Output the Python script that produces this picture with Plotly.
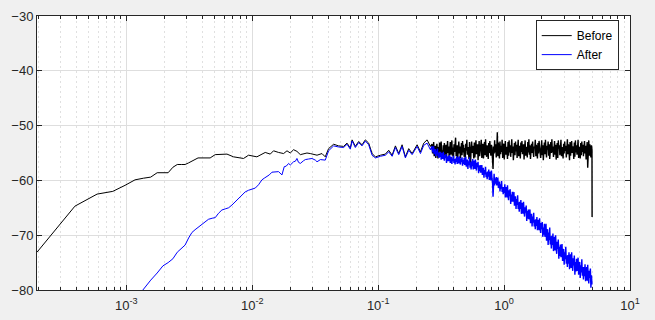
import numpy as np
import plotly.graph_objects as go

# ---------------- data ----------------
# smooth / mid part of "Before" (Hz, dB)
before_freq = [1.953e-4, 3.906e-4, 5.859e-4, 7.81e-4, 9.77e-4, 1.172e-3, 1.367e-3, 1.5625e-3,
               1.758e-3, 1.953e-3, 2.148e-3, 2.344e-3, 2.539e-3, 2.734e-3, 2.93e-3, 3.125e-3,
               3.32e-3, 3.516e-3, 3.711e-3, 4.63e-3, 5.08e-3, 6.30e-3, 7.10e-3, 8.53e-3,
               9.35e-3, 1.089e-2, 1.158e-2, 1.268e-2, 1.390e-2, 1.476e-2, 1.618e-2, 1.774e-2,
               1.888e-2, 2.005e-2, 2.13e-2, 2.265e-2, 2.41e-2, 2.56e-2, 2.72e-2, 2.89e-2,
               3.07e-2, 3.27e-2, 3.58e-2, 3.80e-2, 4.04e-2, 4.43e-2, 4.85e-2, 5.32e-2,
               5.66e-2, 6.01e-2, 6.21e-2, 6.59e-2, 7.00e-2, 7.45e-2, 7.91e-2, 8.41e-2,
               8.95e-2, 9.51e-2, 0.1042, 0.1141, 0.1213, 0.1291, 0.1371, 0.1457,
               0.1549, 0.1645, 0.1749, 0.1861, 0.2039, 0.2167, 0.2301, 0.2447, 0.260]
before_db = [-73.1, -64.7, -62.5, -62.0, -60.9, -59.9, -59.6, -59.4,
             -58.6, -58.6, -58.6, -57.6, -57.1, -57.1, -57.1, -56.8,
             -56.5, -56.1, -55.9, -55.9, -55.3, -55.2, -55.7, -56.0,
             -55.4, -55.7, -55.4, -54.9, -55.2, -54.6, -54.9, -55.1,
             -54.6, -55.0, -54.4, -54.7, -55.3, -55.2, -55.0, -55.1,
             -55.3, -55.4, -55.1, -55.7, -54.2, -53.4, -53.7, -53.8,
             -53.2, -54.1, -52.6, -53.8, -52.9, -53.5, -52.6, -53.2,
             -55.1, -55.7, -55.4, -55.2, -54.5, -55.4, -53.7, -55.1,
             -53.5, -55.7, -54.2, -55.1, -53.5, -54.8, -53.2, -52.6, -53.8]

after_freq = [1.172e-3, 1.367e-3, 1.5625e-3, 1.758e-3, 1.953e-3, 2.148e-3, 2.344e-3, 2.539e-3,
              2.734e-3, 2.93e-3, 3.125e-3, 3.32e-3, 3.516e-3, 3.711e-3, 3.86e-3, 4.15e-3,
              4.49e-3, 4.81e-3, 5.08e-3, 5.40e-3, 5.74e-3, 6.10e-3, 6.49e-3, 6.90e-3,
              7.33e-3, 7.78e-3, 8.28e-3, 8.79e-3, 9.35e-3, 9.95e-3, 1.057e-2, 1.122e-2,
              1.194e-2, 1.245e-2, 1.309e-2, 1.365e-2, 1.435e-2, 1.524e-2, 1.618e-2, 1.722e-2,
              1.795e-2, 1.862e-2, 1.945e-2, 2.005e-2, 2.13e-2, 2.20e-2, 2.265e-2, 2.33e-2,
              2.41e-2, 2.56e-2, 2.64e-2, 2.80e-2, 2.98e-2, 3.17e-2, 3.27e-2, 3.48e-2,
              3.58e-2, 3.80e-2, 4.04e-2, 4.43e-2, 4.85e-2, 5.32e-2, 5.66e-2, 6.01e-2,
              6.21e-2, 6.59e-2, 7.00e-2, 7.45e-2, 7.91e-2, 8.41e-2, 8.95e-2, 9.51e-2,
              0.1042, 0.1141, 0.1213, 0.1291, 0.1371, 0.1457, 0.1549, 0.1645,
              0.1749, 0.1861, 0.2039, 0.2167, 0.2301, 0.2447, 0.260]
after_db = [-81.8, -79.8, -78.2, -76.9, -75.6, -75.0, -74.3, -73.1,
            -72.4, -71.8, -70.5, -69.5, -69.0, -68.6, -68.3, -67.7,
            -67.1, -66.9, -66.8, -66.0, -65.4, -65.2, -65.0, -64.5,
            -63.9, -63.3, -62.7, -62.1, -61.8, -61.6, -61.4, -60.8,
            -59.9, -59.6, -59.3, -59.0, -58.5, -58.5, -58.4, -59.0,
            -57.5, -57.4, -56.9, -57.2, -56.6, -56.5, -56.0, -56.7,
            -56.9, -56.4, -56.2, -56.1, -56.0, -56.3, -56.6, -56.2,
            -56.2, -56.3, -54.6, -53.7, -53.9, -54.0, -53.4, -54.3,
            -52.8, -54.0, -53.1, -53.7, -52.8, -53.5, -55.4, -55.9,
            -55.6, -55.4, -54.8, -55.6, -54.0, -55.3, -53.8, -55.9,
            -54.5, -55.3, -53.8, -55.1, -53.6, -53.2, -54.4]

# noisy high-frequency part, sampled on a log grid between these limits (Hz)
noisy_band_hz = (0.268, 4.99)
before_noisy_db = [
    -53.4, -55.1, -54.2, -53.0, -55.6, -54.4, -53.7, -55.9, -54.8, -53.3, -54.6, -56.0, -53.9, -54.7, -53.1,
    -55.4, -54.0, -52.9, -55.2, -54.5, -56.1, -53.6, -54.9, -53.2, -55.7, -54.3, -53.5, -55.8, -54.1, -52.8,
    -55.0, -53.8, -56.2, -54.6, -53.0, -55.3, -54.2, -52.7, -55.5, -54.0, -56.3, -53.4, -54.8, -53.1, -52.2,
    -55.6, -54.3, -53.6, -55.9, -54.7, -52.9, -55.1, -53.8, -56.0, -54.4, -53.2, -55.4, -52.8, -54.9, -53.5,
    -55.7, -54.1, -56.2, -53.3, -54.6, -52.6, -55.3, -53.9, -54.8, -56.1, -53.0, -55.5, -56.8, -54.2, -52.9,
    -55.0, -53.7, -54.5, -56.0, -53.1, -55.8, -54.3, -52.7, -55.2, -54.0, -53.4, -56.3, -54.7, -52.8, -55.6,
    -53.9, -54.4, -52.6, -55.9, -54.1, -53.3, -56.0, -54.8, -53.0, -55.4, -52.5, -54.6, -55.7, -53.6, -54.2,
    -56.1, -53.2, -55.0, -52.8, -54.7, -55.5, -53.5, -54.0, -56.2, -57.9, -53.8, -55.1, -52.7, -54.9, -53.4,
    -55.8, -54.3, -51.2, -55.6, -53.1, -54.5, -56.0, -52.9, -55.2, -53.7, -54.8, -52.6, -55.9, -54.0, -53.3,
    -56.2, -54.6, -52.8, -55.3, -53.9, -54.4, -56.1, -53.0, -55.5, -52.7, -54.9, -53.6, -55.7, -54.2, -52.5,
    -55.0, -53.8, -56.3, -54.5, -53.2, -55.4, -52.9, -54.7, -53.5, -55.9, -54.1, -52.6, -55.6, -53.7, -54.3,
    -56.0, -53.1, -54.8, -52.8, -55.2, -54.0, -53.4, -56.2, -54.6, -52.7, -55.5, -53.9, -54.4, -55.8, -53.0,
    -54.9, -52.5, -55.3, -53.6, -56.1, -54.2, -53.3, -55.0, -52.9, -54.7, -55.7, -53.8, -54.1, -52.6, -55.6,
    -53.5, -54.8, -56.0, -53.2, -55.1, -52.8, -54.5, -53.9, -55.9, -54.3, -52.7, -55.4, -53.6, -56.3, -54.0,
    -53.1, -55.2, -52.6, -54.6, -55.8, -53.7, -54.4, -52.9, -55.5, -53.4, -56.1, -54.7, -53.0, -55.0, -52.5,
    -54.9, -53.8, -55.7, -54.1, -52.8, -55.3, -53.5, -56.2, -54.5, -53.2, -55.9, -52.7, -54.2, -53.6, -55.4,
    -54.0, -52.6, -55.6, -53.9, -54.8, -56.0, -53.3, -55.1, -52.9, -54.6, -53.7, -55.8, -54.3, -52.5, -55.2,
    -53.4, -54.7, -56.3, -53.0, -55.5, -54.1, -52.8, -55.0, -53.8, -54.4, -56.1, -53.1, -55.7, -52.7, -54.9,
    -53.6, -55.3, -54.2, -52.6, -55.9, -53.9, -54.5, -56.0, -53.2, -55.4, -52.9, -54.8, -53.5, -55.6, -54.0,
    -52.8, -55.1, -53.7, -56.2, -54.3, -53.0, -57.7, -54.6, -52.7, -55.5, -53.4, -54.9, -55.8, -53.6, -54.4]
after_noisy_db = [
    -53.8, -54.9, -54.4, -53.8, -55.2, -54.8, -54.3, -55.6, -54.6, -55.2, -54.2, -55.6, -54.9, -55.9, -54.9,
    -55.7, -54.8, -56.2, -55.3, -55.0, -56.1, -54.8, -55.9, -56.4, -55.4, -55.9, -55.2, -56.8, -55.7, -56.5,
    -55.5, -56.5, -56.0, -55.4, -56.8, -56.3, -55.7, -57.0, -56.0, -56.5, -55.5, -56.8, -56.1, -57.1, -56.0,
    -56.6, -55.6, -57.0, -56.1, -55.8, -56.9, -55.6, -56.6, -57.1, -56.0, -56.6, -55.8, -57.3, -56.3, -57.0,
    -55.9, -57.2, -56.5, -55.7, -57.5, -56.9, -56.2, -57.9, -56.5, -57.2, -55.8, -57.7, -56.7, -58.0, -56.5,
    -57.4, -56.1, -58.0, -56.8, -56.4, -57.9, -56.2, -57.5, -58.2, -56.8, -57.6, -56.6, -58.7, -57.3, -58.3,
    -57.2, -58.6, -57.9, -57.2, -59.0, -58.4, -57.7, -59.5, -58.1, -58.9, -57.5, -59.4, -58.5, -59.8, -58.4,
    -59.3, -58.0, -59.9, -58.8, -58.4, -60.0, -58.2, -59.6, -60.3, -63.0, -59.8, -58.8, -60.9, -59.6, -60.6,
    -59.4, -60.9, -60.2, -59.5, -61.4, -60.8, -60.2, -62.0, -60.7, -61.5, -60.1, -62.1, -61.2, -62.5, -61.2,
    -62.3, -60.7, -63.1, -61.7, -61.2, -63.1, -60.9, -62.7, -63.6, -61.8, -62.9, -61.6, -64.3, -62.6, -63.9,
    -62.1, -63.9, -63.1, -62.1, -64.6, -63.8, -62.9, -65.2, -63.4, -64.5, -62.7, -65.2, -64.0, -65.7, -63.9,
    -65.2, -63.6, -66.1, -64.6, -64.1, -66.1, -63.9, -65.7, -66.6, -64.9, -65.9, -64.6, -67.4, -65.6, -67.0,
    -65.3, -67.1, -66.3, -65.3, -67.8, -67.0, -66.1, -68.4, -66.6, -67.7, -65.9, -68.4, -67.2, -68.9, -67.1,
    -68.3, -66.7, -69.1, -67.7, -67.2, -69.1, -66.9, -68.7, -69.6, -67.8, -68.9, -67.6, -70.3, -68.6, -69.9,
    -67.9, -70.3, -69.2, -67.9, -71.0, -70.0, -68.9, -71.8, -69.5, -70.9, -68.6, -71.7, -70.2, -72.4, -70.1,
    -71.8, -69.7, -72.9, -71.0, -70.3, -72.8, -70.0, -72.3, -73.4, -71.2, -72.5, -70.8, -74.3, -72.1, -73.8,
    -71.7, -74.0, -72.9, -71.6, -74.7, -73.6, -72.5, -75.4, -73.1, -74.4, -72.1, -75.2, -73.7, -75.8, -73.6,
    -75.2, -73.1, -76.2, -74.3, -73.5, -76.0, -73.1, -75.4, -76.5, -74.2, -75.5, -73.7, -77.2, -74.9, -76.6,
    -74.3, -76.5, -75.4, -74.1, -77.2, -76.1, -74.9, -77.8, -75.5, -76.8, -74.4, -77.4, -75.8, -78.1, -75.8,
    -77.5, -75.3, -78.4, -76.5, -75.8, -78.3, -75.4, -77.7, -78.8, -76.5, -77.8, -76.1, -79.6, -77.3, -79.0]
before_end = (5.0, -66.7)

x_tickvals = [1e-3, 1e-2, 1e-1, 1, 10]
x_ticktext = ["10<sup>-3</sup>", "10<sup>-2</sup>", "10<sup>-1</sup>", "10<sup>0</sup>", "10<sup>1</sup>"]
y_tickvals = [-80, -70, -60, -50, -40, -30]

# ---------------- build ----------------
noisy_freq = list(np.geomspace(noisy_band_hz[0], noisy_band_hz[1], len(before_noisy_db)))

fig = go.Figure()
# smooth parts (carry the legend)
fig.add_trace(go.Scatter(x=before_freq, y=before_db, mode="lines", name="Before",
                         legendgroup="b", line=dict(color="#000000", width=1)))
fig.add_trace(go.Scatter(x=after_freq, y=after_db, mode="lines", name="After",
                         legendgroup="a", line=dict(color="#0000ff", width=1)))
# dense noisy parts, joined to the smooth parts
fig.add_trace(go.Scatter(x=[before_freq[-1]] + noisy_freq + [before_end[0]],
                         y=[before_db[-1]] + before_noisy_db + [before_end[1]],
                         mode="lines", name="Before", legendgroup="b", showlegend=False,
                         line=dict(color="#000000", width=1.4)))
fig.add_trace(go.Scatter(x=[after_freq[-1]] + noisy_freq,
                         y=[after_db[-1]] + after_noisy_db,
                         mode="lines", name="After", legendgroup="a", showlegend=False,
                         line=dict(color="#0000ff", width=1.4)))

axis_col = "#262626"
fig.update_xaxes(type="log", range=[np.log10(1.953e-4), 1],
                 tickvals=x_tickvals, ticktext=x_ticktext, automargin=False,
                 ticklabelstandoff=3,
                 showline=True, linecolor=axis_col, linewidth=1, mirror="ticks",
                 ticks="inside", ticklen=5, tickcolor=axis_col,
                 showgrid=True, gridcolor="#dedede", gridwidth=1,
                 minor=dict(dtick="D1", showgrid=True, gridcolor="#e0e0e0",
                            griddash="2px,3px", ticks="inside", ticklen=3, tickcolor=axis_col),
                 zeroline=False, tickfont=dict(size=13, color=axis_col))
fig.update_yaxes(range=[-80, -30], tickvals=y_tickvals, automargin=False,
                 showline=True, linecolor=axis_col, linewidth=1, mirror="ticks",
                 ticks="inside", ticklen=5, tickcolor=axis_col,
                 showgrid=True, gridcolor="#dedede", gridwidth=1,
                 zeroline=False, tickfont=dict(size=13, color=axis_col))

fig.update_layout(
    width=655, height=320,
    margin=dict(l=37, r=25, t=16, b=30),
    paper_bgcolor="#f0f0f0", plot_bgcolor="#ffffff",
    font=dict(family="Liberation Sans, Arial, sans-serif", color=axis_col),
    showlegend=True,
    legend=dict(x=0.981, y=0.985, xanchor="right", yanchor="top",
                bgcolor="#ffffff", bordercolor=axis_col, borderwidth=1,
                font=dict(size=12, color="#000000"),
                tracegroupgap=0, itemwidth=30),
)

fig.write_html("out.html", config={"displayModeBar": False},
               post_script="document.body.style.margin='0';document.body.style.overflow='hidden';")
